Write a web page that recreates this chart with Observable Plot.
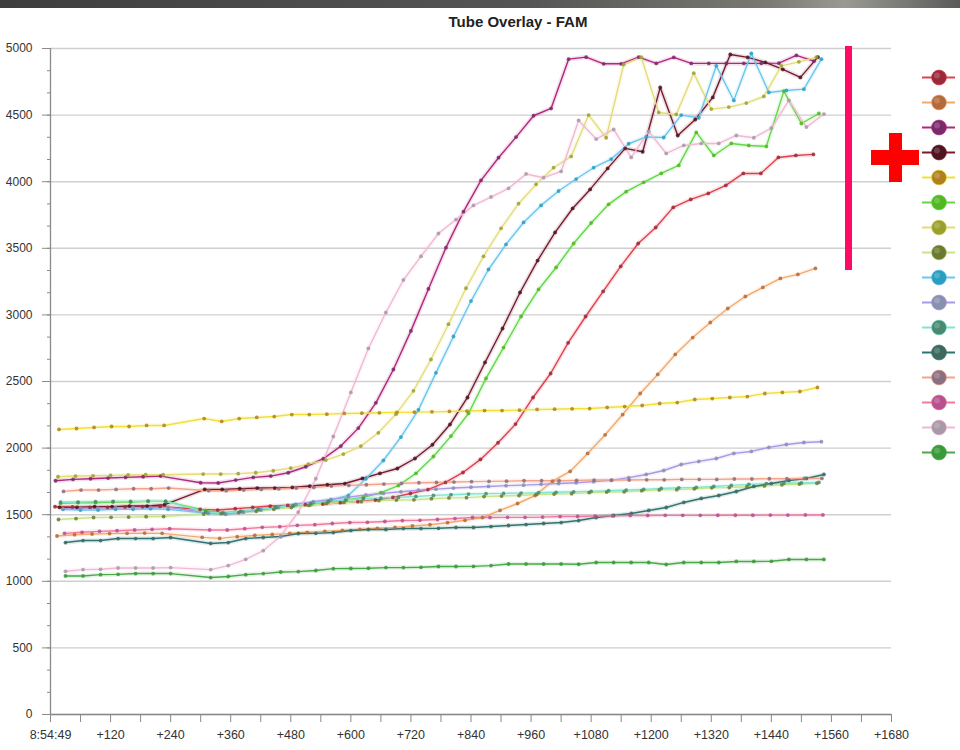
<!DOCTYPE html>
<html>
<head>
<meta charset="utf-8">
<script src="https://cdn.jsdelivr.net/npm/d3@7"></script>
<script src="https://cdn.jsdelivr.net/npm/@observablehq/plot@0.6"></script>
<style>
  body { margin: 0; background: #fff; font-family: "Liberation Sans", Arial, sans-serif; }
  #wrap { position: relative; width: 960px; height: 750px; overflow: hidden; background: #fff; }
  #topbar { position: absolute; left: 0; top: 0; width: 960px; height: 8px;
    background: linear-gradient(to right, #3e3e3e, #555 55%, #7a7a72 80%, #9a9a92 88%, #5a5a5a); }
  #title { position: absolute; left: 418px; top: 14px; width: 200px; text-align: center;
    font: bold 15px/15px "Liberation Sans", Arial, sans-serif; color: #222; }
  #chart { position: absolute; left: 0; top: 0; }
  #legend { position: absolute; left: 922px; top: 50px; }
  .mark-bar { position: absolute; left: 845px; top: 46px; width: 7px; height: 224px; background: #ff0a64; }
  .plus-h { position: absolute; left: 871px; top: 150px; width: 48px; height: 15px; background: #ff0000; }
  .plus-v { position: absolute; left: 889px; top: 133px; width: 13px; height: 49px; background: #ff0000; }
</style>
</head>
<body>
<div id="wrap">
  <div id="topbar"></div>
  <div id="chart"></div>
  <div id="title">Tube Overlay - FAM</div>
  <div id="legend"></div>
  <div class="mark-bar"></div>
  <div class="plus-h"></div>
  <div class="plus-v"></div>
</div>
<script>
// ---- Data ----
// Read times (seconds after 8:54:49) for a tube read without delay
const baseTimes = [0,35,70,105,140,175,210,
  290,325,360,395,430,465,500,535,570,605,640,675,710,745,780,815,850,885,920,955,990,1025,1060,1095,1130,1165,1200,1235,1270,1305,1340,1375,1410,1445,1480,1515];
// Each tube is read with a small delay (seconds)
const tubeDelays = [9,13,10,18,17,20,15,16,25,25,20,30,26,28,30,30];

const seriesNames = ["Tube 1","Tube 2","Tube 3","Tube 4","Tube 5","Tube 6","Tube 7","Tube 8",
  "Tube 9","Tube 10","Tube 11","Tube 12","Tube 13","Tube 14","Tube 15","Tube 16"];

const tube1 = [1560,1558,1555,1555,1558,1560,1562,
  1540,1535,1545,1555,1565,1570,1575,1580,1590,1598,1610,1630,1659,
  1689,1742,1817,1915,2040,2180,2380,2560,2790,2988,3176,3364,3536,3656,3807,3867,3912,3972,4062,4062,4182,4197,4205];
const tube2 = [1340,1350,1355,1358,1360,1362,1360,
  1330,1322,1335,1345,1352,1360,1368,1375,1382,1390,1398,1405,1415,1425,1440,1458,
  1479,1532,1584,1644,1752,1825,1960,2100,2252,2410,2553,2703,2830,2943,3048,3138,3206,3274,3304,3349];
const tube3 = [1755,1765,1770,1775,1780,1785,1790,
  1740,1738,1760,1780,1790,1815,1860,1920,
  2015,2150,2340,2590,2880,3195,3505,3775,4010,4180,4335,4495,4550,
  4920,4935,4885,4885,4935,4888,4933,4888,4888,4888,4888,4888,4890,4948,4905];
const tube4 = [1555,1555,1560,1560,1565,1565,1575,
  1690,1690,1695,1700,1700,1705,1715,1725,
  1734,1772,1810,1847,1922,2025,2177,2380,2643,2898,3168,3408,3619,3799,3942,
  4100,4250,4225,4708,4347,4467,4633,4955,4933,4896,4843,4783,4935];
const tube5 = [2140,2147,2155,2162,2162,2170,2170,
  2222,2200,2222,2230,2237,2252,2252,2255,2260,2262,2265,2268,2270,2272,2275,2278,2282,2282,2285,2290,2292,2295,2297,2305,2312,2320,2335,2342,2365,2372,2380,2387,2410,2418,2425,2455];
const tube6 = [1585,1590,1590,1595,1595,1600,1600,
  1530,1515,1525,1540,1555,1565,1575,
  1595,1610,1630,1665,1719,1810,1937,2090,2260,2523,2755,2988,3191,3356,3536,
  3690,3830,3925,3995,4062,4122,4370,4197,4287,4272,4265,4680,4437,4512];
const tube7 = [1785,1790,1792,1795,1798,1800,1800,
  1805,1805,1808,1815,1830,1850,1880,1910,
  1955,2015,2115,2255,2430,2665,2930,3200,3440,3650,3835,3980,4105,4190,
  4500,4330,4880,4935,4520,4505,4815,4545,4560,4590,4640,4870,4900,4935];
const tube8 = [1464,1471,1479,1480,1482,1485,1486,
  1505,1509,1515,1525,1540,1554,1570,1584,
  1592,1598,1606,1610,1612,1620,1626,1628,1636,1640,1644,1652,1655,1658,1666,1670,1672,1680,1686,1688,1695,1702,1704,1710,1716,1724,1730,1736];
const tube9 = [1540,1535,1535,1540,1540,1545,1540,
  1510,1505,1520,1535,1555,1575,1590,1610,1645,1770,
  1907,2083,2287,2565,2838,3104,3341,3529,3694,3822,3930,4020,4105,4170,4285,4336,4332,4500,4480,4870,4610,4963,4670,4685,4695,4920];
const tube10 = [1545,1548,1550,1552,1552,1555,1555,
  1515,1505,1520,1540,1560,1578,1598,1615,1632,1648,1660,1672,1684,1692,1700,1706,1712,1718,1722,1728,1734,1740,1748,1758,1778,
  1802,1832,1877,1900,1922,1960,1975,2005,2027,2042,2048];
const tube11 = [1595,1595,1598,1600,1600,1602,1600,
  1520,1510,1525,1540,1555,1570,1585,1600,1610,1620,1625,1630,1637,1645,1650,1655,1658,1660,1662,1665,1668,1672,1675,1680,1685,1690,1697,1702,1705,1712,1720,1728,1734,1736,1738,1742];
const tube12 = [1291,1306,1306,1321,1321,1321,1329,
  1284,1291,1321,1329,1336,1359,1360,1366,1381,1389,1389,1396,1396,1398,1404,1404,1411,1419,1426,1434,1441,1456,1479,1494,1509,1532,1554,1592,1622,1644,1674,1712,1734,1757,1772,1802];
const tube13 = [1675,1685,1685,1690,1695,1695,1700,
  1680,1680,1685,1690,1695,1700,1705,1715,1720,1725,1730,1735,1740,1742,1745,1748,1750,1752,1755,1755,1755,1758,1760,1760,1760,1762,1762,1765,1765,1765,1768,1768,1770,1770,1772,1772];
const tube14 = [1360,1368,1375,1380,1385,1390,1395,
  1385,1385,1395,1405,1410,1420,1425,1434,1441,1443,1449,1456,1458,1464,1471,1479,1479,1480,1480,1482,1486,1487,1490,1492,1494,1494,1495,1495,1495,1496,1496,1496,1497,1497,1498,1498];
const tube15 = [1075,1088,1090,1100,1100,1100,1103,
  1088,1118,1165,1230,1340,1520,1770,2087,2418,2748,3018,3262,3439,3611,3716,3822,3885,3950,4058,4030,4077,4460,4320,4392,4182,4378,4212,4272,4287,4287,4347,4330,4403,4610,4410,4508];
const tube16 = [1040,1040,1050,1052,1058,1058,1058,
  1028,1036,1050,1058,1070,1073,1081,1095,1096,1098,1103,1103,1105,1111,1111,1112,1118,1130,1130,1130,1130,1128,1141,1141,1141,1141,1126,1141,1141,1141,1149,1149,1150,1164,1164,1164];

const seriesValues = [tube1,tube2,tube3,tube4,tube5,tube6,tube7,tube8,tube9,tube10,tube11,tube12,tube13,tube14,tube15,tube16];

const seriesColors = ["#9a2a3a","#b56a3a","#7a2a6a","#4e1420","#b08020","#52b820","#9aa030","#6a7a30",
  "#2a9ec0","#8890b0","#4a8a70","#3e6a5e","#8a7080","#b85090","#a898a8","#3a9a3a"];
const lineColors = ["#e0404e","#f2aa6c","#b0287e","#761c30","#f0e03a","#62d848","#e4dc78","#c8e48a",
  "#6cc6ee","#a89ae6","#7ee6d2","#2e7472","#f3a48a","#f27aa0","#f2b8d4","#4ca84c"];

const yMajorTicks = [0,500,1000,1500,2000,2500,3000,3500,4000,4500,5000];
const xTicks = [0,60,120,180,240,300,360,420,480,540,600,660,720,780,840,900,960,1020,1080,1140,1200,1260,1320,1380,1440,1500,1560,1620,1680];
const xLabelTicks = [0,120,240,360,480,600,720,840,960,1080,1200,1320,1440,1560,1680];
const startLabel = "8:54:49";

// ---- Build table ----
const rows = [];
seriesValues.forEach((vals, s) => {
  vals.forEach((v, i) => rows.push({name: seriesNames[s], s, t: baseTimes[i] + tubeDelays[s], v}));
});
const yMinorTicks = d3.range(0, 5001, 500 / 3).map(d => Math.round(d * 1000) / 1000);

const chart = Plot.plot({
  width: 960, height: 750,
  marginLeft: 50, marginRight: 69, marginTop: 48, marginBottom: 36,
  style: {fontFamily: "'Liberation Sans', Arial, sans-serif", fontSize: "12px", color: "#333", background: "transparent", overflow: "visible"},
  x: {domain: [0, 1680], axis: null, label: null},
  y: {domain: [0, 5000], axis: null, label: null},
  color: {type: "identity"},
  marks: [
    Plot.gridY(yMajorTicks, {stroke: "#cfcfcf", strokeOpacity: 1, strokeWidth: 1.4}),
    Plot.axisY({ticks: yMinorTicks, tickSize: 3, tickFormat: () => "", stroke: "#8a8a8a", label: null}),
    Plot.axisY({ticks: yMajorTicks, tickSize: 8, tickPadding: 10, stroke: "#8a8a8a", fill: "#333", fontSize: 12,
      tickFormat: d => String(d), label: null}),
    Plot.axisX({ticks: xTicks, tickSize: 8, tickFormat: () => "", stroke: "#8a8a8a", label: null}),
    Plot.axisX({ticks: xLabelTicks, tickSize: 0, tickPadding: 16, fill: "#333", fontSize: 12.5,
      tickFormat: d => d === 0 ? startLabel : "+" + d, label: null}),
    Plot.ruleX([0], {stroke: "#8a8a8a", strokeWidth: 1.3}),
    Plot.ruleY([0], {stroke: "#8a8a8a", strokeWidth: 1.3}),
    Plot.line(rows, {x: "t", y: "v", z: "name", stroke: d => lineColors[d.s], strokeWidth: 4.5, strokeOpacity: 0.14}),
    Plot.line(rows, {x: "t", y: "v", z: "name", stroke: d => lineColors[d.s], strokeWidth: 1.4}),
    Plot.dot(rows, {x: "t", y: "v", r: 1.9, fill: d => seriesColors[d.s], fillOpacity: 0.85})
  ]
});
document.getElementById("chart").appendChild(chart);

const legend = Plot.plot({
  width: 33, height: 430, margin: 0,
  style: {background: "transparent", overflow: "visible"},
  x: {domain: [0, 1], axis: null},
  y: {type: "point", domain: seriesNames, range: [14, 415], axis: null},
  color: {type: "identity"},
  marks: [
    Plot.ruleY(seriesNames, {y: d => d, stroke: (d, i) => lineColors[i], strokeWidth: 2}),
    Plot.dot(seriesNames, {y: d => d, r: 7.5, fill: (d, i) => seriesColors[i], stroke: (d, i) => lineColors[i], strokeWidth: 1, strokeOpacity: 0.6}),
    Plot.dot(seriesNames, {y: d => d, r: 3, dx: -2, dy: -2, fill: "#fff", fillOpacity: 0.18})
  ]
});
document.getElementById("legend").appendChild(legend);
</script>
</body>
</html>
